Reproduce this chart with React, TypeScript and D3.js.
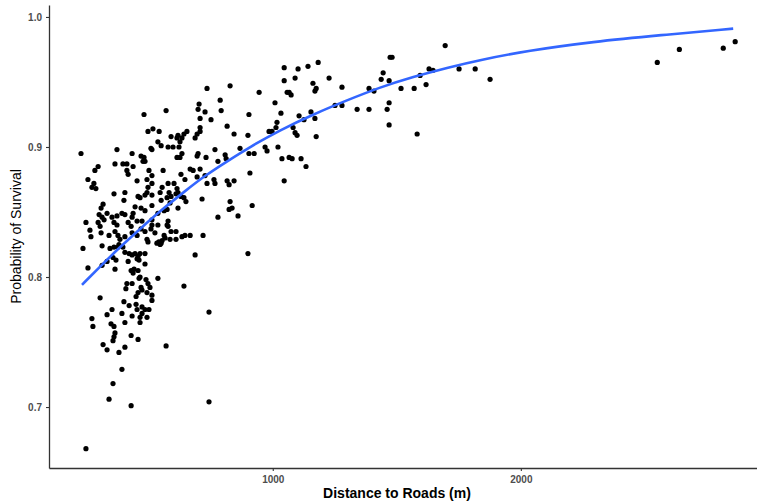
import { useEffect, useRef } from "react"
import * as d3 from "d3"

// observations: [distance to road (m), probability of survival]
const observations: [number, number][] = [
  [481, 0.925], [497, 0.912], [517, 0.914], [227, 0.895], [372, 0.898], [433, 0.895], [469, 0.893], [481, 0.892],
  [485, 0.889], [477, 0.889], [509, 0.899], [513, 0.898], [296, 0.885], [283, 0.882], [364, 0.887], [396, 0.887],
  [412, 0.887], [437, 0.885], [412, 0.882], [417, 0.879], [501, 0.882], [513, 0.878], [255, 0.875], [271, 0.869],
  [279, 0.872], [287, 0.868], [453, 0.874], [493, 0.875], [497, 0.869], [513, 0.872], [360, 0.864], [404, 0.865],
  [400, 0.859], [457, 0.862], [465, 0.861], [485, 0.863], [493, 0.865], [513, 0.863], [316, 0.856], [308, 0.853],
  [445, 0.854], [469, 0.853], [513, 0.855],
  [735, 0.945], [828, 0.947], [788, 0.936], [703, 0.933], [699, 0.929], [727, 0.927], [792, 0.928], [570, 0.928],
  [707, 0.922], [751, 0.921], [816, 0.916], [707, 0.915], [707, 0.912], [844, 0.91], [542, 0.912], [654, 0.912],
  [642, 0.91], [634, 0.907], [618, 0.909], [590, 0.908], [695, 0.91], [687, 0.907], [614, 0.907], [537, 0.904],
  [550, 0.901], [578, 0.9], [598, 0.9], [626, 0.904], [622, 0.9], [767, 0.898], [868, 0.899], [699, 0.895],
  [695, 0.893], [634, 0.895], [614, 0.892], [626, 0.892], [731, 0.892], [808, 0.894], [812, 0.891], [779, 0.889],
  [904, 0.895], [558, 0.882], [667, 0.883], [679, 0.882], [707, 0.883], [630, 0.879], [695, 0.877], [727, 0.878],
  [763, 0.875], [767, 0.872], [816, 0.874], [824, 0.871], [844, 0.874], [735, 0.872], [646, 0.875], [578, 0.872],
  [554, 0.869], [546, 0.865], [602, 0.872], [614, 0.868], [610, 0.864], [618, 0.865], [630, 0.862], [582, 0.865],
  [590, 0.862], [574, 0.861], [586, 0.857], [550, 0.859], [715, 0.86], [642, 0.861], [650, 0.858], [618, 0.853],
  [828, 0.858], [836, 0.853],
  [945, 0.942], [1009, 0.934], [904, 0.925], [1017, 0.919], [1013, 0.915], [985, 0.912], [997, 0.912], [900, 0.909],
  [969, 0.9], [977, 0.897], [1021, 0.9], [1037, 0.891], [1066, 0.892], [925, 0.895], [908, 0.88], [1046, 0.874],
  [917, 0.855],
  [1695, 0.978], [1473, 0.969], [1481, 0.969], [1046, 0.961], [1102, 0.96], [1142, 0.962], [1183, 0.965], [1046, 0.951],
  [1090, 0.953], [1227, 0.953], [1162, 0.949], [1058, 0.942], [1066, 0.942], [1074, 0.94], [1175, 0.945], [1170, 0.943],
  [1279, 0.946], [1445, 0.957], [1437, 0.952], [1469, 0.951], [1388, 0.945], [1408, 0.943], [1517, 0.945], [1570, 0.945],
  [1594, 0.955], [1630, 0.96], [1646, 0.959], [1618, 0.948], [1751, 0.96], [1816, 0.96], [1251, 0.932], [1279, 0.932],
  [1340, 0.929], [1388, 0.929], [1469, 0.934], [1461, 0.929], [1469, 0.917], [1582, 0.91], [1033, 0.926], [1154, 0.927],
  [1106, 0.924], [1126, 0.921], [1170, 0.922], [1082, 0.915], [1090, 0.911], [1098, 0.909], [1175, 0.908], [1078, 0.891],
  [1114, 0.891], [1134, 0.885],
  [1876, 0.952], [2550, 0.965], [2639, 0.975], [2816, 0.976], [2864, 0.981],
  [300, 0.848], [312, 0.846], [296, 0.842], [320, 0.844], [304, 0.839], [247, 0.842], [263, 0.836], [267, 0.831],
  [332, 0.849], [352, 0.846], [372, 0.847], [392, 0.849], [404, 0.848], [433, 0.846], [437, 0.849], [485, 0.851],
  [360, 0.842], [372, 0.84], [417, 0.842], [429, 0.839], [453, 0.843], [473, 0.843], [513, 0.844], [513, 0.84],
  [509, 0.837], [469, 0.837], [308, 0.834], [340, 0.832], [364, 0.835], [376, 0.832], [404, 0.831], [384, 0.829],
  [433, 0.834], [453, 0.832], [485, 0.835], [493, 0.829], [497, 0.827], [235, 0.822], [312, 0.824], [344, 0.822],
  [360, 0.823], [380, 0.825], [376, 0.823], [396, 0.823], [404, 0.819], [421, 0.818], [433, 0.817], [445, 0.818],
  [457, 0.816], [465, 0.818], [485, 0.818], [453, 0.814], [461, 0.813], [356, 0.815], [368, 0.813], [332, 0.812],
  [312, 0.809], [255, 0.807], [364, 0.806], [417, 0.812], [429, 0.805], [437, 0.803], [441, 0.806], [457, 0.805],
  [465, 0.8], [485, 0.81], [412, 0.795], [408, 0.791], [433, 0.795], [461, 0.799], [469, 0.792], [473, 0.79],
  [457, 0.788], [449, 0.785], [489, 0.798], [497, 0.795], [505, 0.792], [493, 0.788], [513, 0.786], [513, 0.782],
  [304, 0.784], [400, 0.781], [421, 0.778], [449, 0.779], [453, 0.775], [473, 0.777], [485, 0.775], [473, 0.772],
  [493, 0.769], [465, 0.769], [352, 0.775], [332, 0.771], [392, 0.772], [433, 0.77], [271, 0.768], [275, 0.762],
  [348, 0.764], [360, 0.762], [364, 0.757], [404, 0.765], [465, 0.765], [501, 0.775],
  [537, 0.849], [562, 0.851], [574, 0.852], [779, 0.846], [860, 0.847], [824, 0.852], [578, 0.843], [574, 0.84],
  [578, 0.839], [537, 0.84], [590, 0.835], [610, 0.835], [525, 0.834], [562, 0.832], [566, 0.83], [533, 0.826],
  [541, 0.827], [550, 0.826], [546, 0.825], [554, 0.828], [586, 0.829], [610, 0.829], [634, 0.831], [646, 0.832],
  [667, 0.832], [719, 0.832], [687, 0.817], [900, 0.818], [537, 0.799], [642, 0.793], [743, 0.773],
  [570, 0.747], [743, 0.704],
  [360, 0.754], [356, 0.751], [429, 0.755], [457, 0.752], [316, 0.748], [332, 0.744], [380, 0.742], [404, 0.746],
  [392, 0.729], [356, 0.718], [340, 0.706], [429, 0.701], [247, 0.668],
]

// fitted curve
const fitDistance = [231, 304, 384, 465, 554, 646, 727, 816, 908, 1029, 1162, 1300, 1433, 1566, 1703, 1836, 2026, 2292, 2562, 2856]
const fitSurvival = [0.794, 0.808, 0.823, 0.837, 0.852, 0.866, 0.878, 0.889, 0.9, 0.913, 0.925, 0.936, 0.946, 0.954, 0.961, 0.967, 0.974, 0.981, 0.986, 0.991]

const xTicks = [1000, 2000]
const yTicks = [0.7, 0.8, 0.9, 1.0]

export default function App() {
  const svgRef = useRef<SVGSVGElement>(null)

  useEffect(() => {
    if (!svgRef.current) return
    const svg = d3.select(svgRef.current)
    svg.selectAll("*").remove()

    const left = 49
    const right = 757
    const top = 5
    const bottom = 468

    const x = d3.scaleLinear().domain([98, 2952]).range([left, right])
    const y = d3.scaleLinear().domain([0.6531, 1.0092]).range([bottom, top])

    // 점
    svg
      .append("g")
      .selectAll("circle")
      .data(observations)
      .join("circle")
      .attr("cx", (d) => x(d[0]))
      .attr("cy", (d) => y(d[1]))
      .attr("r", 2.6)
      .attr("fill", "#000")

    // 회귀선
    const fit = fitDistance.map((d, i) => [d, fitSurvival[i]] as [number, number])
    const line = d3
      .line<[number, number]>()
      .x((d) => x(d[0]))
      .y((d) => y(d[1]))
      .curve(d3.curveBasis)

    svg
      .append("path")
      .datum(fit)
      .attr("fill", "none")
      .attr("stroke", "#3366FF")
      .attr("stroke-width", 2.6)
      .attr("d", line)

    // 축
    const xAxis = svg
      .append("g")
      .attr("transform", `translate(0,${bottom})`)
      .call(d3.axisBottom(x).tickValues(xTicks).tickSize(3).tickSizeOuter(0).tickPadding(5).tickFormat(d3.format("d")))
    const yAxis = svg
      .append("g")
      .attr("transform", `translate(${left},0)`)
      .call(d3.axisLeft(y).tickValues(yTicks).tickSize(3).tickSizeOuter(0).tickPadding(4).tickFormat(d3.format(".1f")))

    for (const ax of [xAxis, yAxis]) {
      ax.select(".domain").attr("stroke", "#333").attr("stroke-width", 1.3)
      ax.selectAll(".tick line").attr("stroke", "#333").attr("stroke-width", 1.1)
      ax.selectAll(".tick text")
        .attr("fill", "#4d4d4d")
        .style("font-family", "'Liberation Sans', Arial, sans-serif")
        .style("font-size", "10px")
        .style("font-weight", "bold")
    }

    // 축 레이블
    svg
      .append("text")
      .attr("x", (left + right) / 2 - 6)
      .attr("y", 498)
      .attr("text-anchor", "middle")
      .style("font-family", "'Liberation Sans', Arial, sans-serif")
      .style("font-size", "14px")
      .style("font-weight", "bold")
      .attr("fill", "#000")
      .text("Distance to Roads (m)")

    svg
      .append("text")
      .attr("transform", `translate(21,${(top + bottom) / 2}) rotate(-90)`)
      .attr("text-anchor", "middle")
      .style("font-family", "'Liberation Sans', Arial, sans-serif")
      .style("font-size", "14px")
      .attr("fill", "#000")
      .text("Probability of Survival")
  }, [])

  return (
    <svg
      ref={svgRef}
      width={757}
      height={504}
      style={{ position: "absolute", left: 0, top: 0, background: "#fff" }}
    />
  )
}
